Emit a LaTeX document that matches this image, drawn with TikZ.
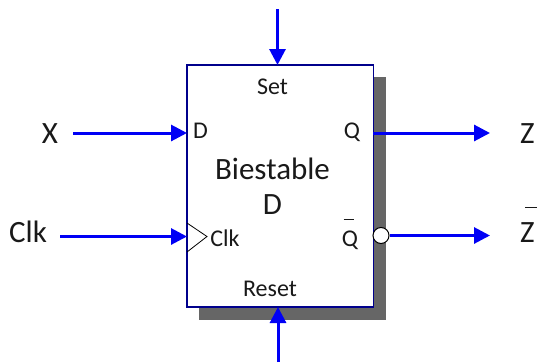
\documentclass[tikz,border=0pt]{standalone}
\usepackage{fontspec}
\setmainfont{Carlito}
\usetikzlibrary{arrows.meta}
\definecolor{sigblue}{RGB}{0,0,245}
\definecolor{boxblue}{RGB}{0,0,140}
\definecolor{shadowgray}{RGB}{102,102,102}
\tikzset{
  sig/.style={draw=sigblue,line width=3pt,-{Triangle[length=16pt,width=16pt,fill=sigblue]}},
  big/.style={inner sep=0pt,font=\fontsize{31}{31}\selectfont,text=black!90},
  port/.style={inner sep=0pt,font=\fontsize{24}{24}\selectfont,text=black!90},
  barline/.style={draw=black!90,line width=1pt},
}
\begin{document}
\begin{tikzpicture}[x=1pt,y=-1pt]
\useasboundingbox (0,0) rectangle (538,362);
\fill[shadowgray] (199,77) rectangle (386,320);
\node[draw=boxblue,fill=white,line width=1.5pt,outer sep=0pt,minimum width=186.5pt,minimum height=242pt,inner sep=0pt,anchor=north west] (box) at (187,65) {};
\coordinate (topin) at (277.5,9);
\coordinate (topend) at (277.5,65);
\coordinate (botin) at (278,362);
\coordinate (botend) at (278,307);
\coordinate (xstart) at (73,133);
\coordinate (clkstart) at (60,236.5);
\coordinate (dend) at (187,133);
\coordinate (clkend) at (187,236.5);
\coordinate (qstart) at (373,133);
\coordinate (zend) at (490,133);
\coordinate (zbend) at (490,235.5);
\node[big] (x) at (50,134) {X};
\node[big] (clk) at (28,232) {Clk};
\node[big] (z) at (527.5,134) {Z};
\node[big] (zb) at (527.5,233) {Z};
\node[draw=black,fill=white,line width=1pt,circle,minimum size=16pt,inner sep=0pt] (bub) at (381,235.5) {};
\draw[sig] (topin) -- (topend);
\draw[sig] (botin) -- (botend);
\draw[sig] (xstart) -- (dend);
\draw[sig] (clkstart) -- (clkend);
\draw[sig] (qstart) -- (zend);
\draw[sig] (bub.east) -- (zbend);
\draw[black,line width=.8pt] (187,223) -- (207,236.5) -- (187,252);
\node[port] (d) at (200.5,131) {D};
\node[port] (clkin) at (225,238) {Clk};
\node[port] (set) at (272.5,87) {Set};
\node[port] (reset) at (270,289) {Reset};
\node[port] (q) at (352,132) {Q};
\node[port] (qb) at (350,240) {Q};
\node[big,align=center] (title) at (272.5,186.5) {Biestable\\[4pt]D};
\draw[barline] (343.5,219.5) -- (354,219.5);
\draw[barline] (525,207.5) -- (537,207.5);
\end{tikzpicture}
\end{document}
